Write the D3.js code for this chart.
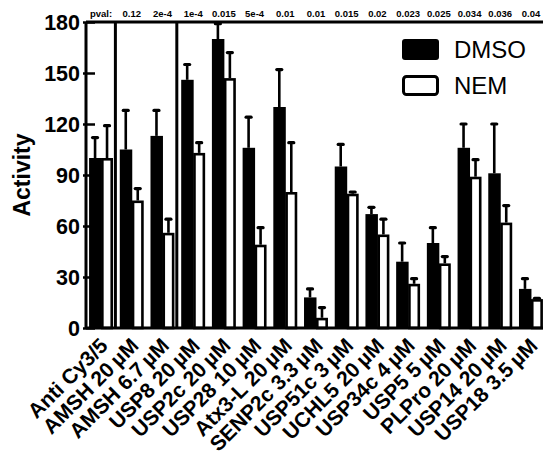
<!DOCTYPE html>
<html>
<head>
<meta charset="utf-8">
<script src="https://cdn.jsdelivr.net/npm/d3@7"></script>
<style>
  body { margin: 0; background: #fff; }
  svg text { font-family: "Liberation Sans", Arial, sans-serif; }
</style>
</head>
<body>
<svg id="chart" width="543" height="462"></svg>
<script>
// data (thin space before the unit)
const categories = ["Anti Cy3/5", "AMSH 20\u2009µM", "AMSH 6.7\u2009µM", "USP8 20\u2009µM", "USP2c 20\u2009µM",
  "USP28 10\u2009µM", "Atx3-L 20\u2009µM", "SENP2c 3.3\u2009µM", "USP51c 3\u2009µM", "UCHL5 20\u2009µM",
  "USP34c 4\u2009µM", "USP5 5\u2009µM", "PLPro 20\u2009µM", "USP14 20\u2009µM", "USP18 3.5\u2009µM"];
const dmso    = [100, 105, 113, 146, 170, 106, 130, 18, 95, 67, 39, 50, 106, 91, 23];
const dmsoErr = [12, 23, 15, 9, 9, 18, 22, 5, 13, 4, 11, 9, 14, 29, 6];
const nem     = [100, 75, 56, 103, 147, 49, 80, 6, 79, 55, 26, 38, 89, 62, 17];
const nemErr  = [19, 7, 8, 6, 15, 10, 29, 6, 1, 9, 3, 4, 10, 10, 0.5];
const pvals   = ["pval:", "0.12", "2e-4", "1e-4", "0.015", "5e-4", "0.01", "0.01", "0.015",
  "0.02", "0.023", "0.025", "0.034", "0.036", "0.04"];
const separators = [1, 3];   // category index that a divider line sits before
const yTicks = [0, 30, 60, 90, 120, 150, 180];
const seriesNames = ["DMSO", "NEM"];

const svg = d3.select("#chart");
const mLeft = 86, mRight = 546, mTop = 22, mBottom = 328;

const x = d3.scaleBand()
  .domain(categories)
  .range([mLeft, mRight])
  .paddingInner(0.22)
  .paddingOuter(0.1);

const xSub = d3.scaleBand()
  .domain(seriesNames)
  .range([0, x.bandwidth()]);

const y = d3.scaleLinear()
  .domain([0, 180])
  .range([mBottom, mTop]);

const rows = categories.map(function(c, i) {
  return {cat: c, DMSO: [dmso[i], dmsoErr[i]], NEM: [nem[i], nemErr[i]]};
});

// bars
const groups = svg.append("g").selectAll("g")
  .data(rows)
  .enter().append("g")
  .attr("transform", function(d) { return "translate(" + x(d.cat) + ",0)"; });

const bars = groups.selectAll("g.bar")
  .data(function(d) { return seriesNames.map(function(s) { return {s: s, v: d[s][0], e: d[s][1]}; }); })
  .enter().append("g").attr("class", "bar");

// error bars first so the bar covers the lower half
bars.append("line")
  .attr("x1", function(d) { return xSub(d.s) + xSub.bandwidth() / 2; })
  .attr("x2", function(d) { return xSub(d.s) + xSub.bandwidth() / 2; })
  .attr("y1", function(d) { return y(d.v); })
  .attr("y2", function(d) { return y(d.v + d.e); })
  .attr("stroke", "#000")
  .attr("stroke-width", 2.6);

bars.append("line")
  .attr("x1", function(d) { return xSub(d.s) + xSub.bandwidth() / 2 - 2.5; })
  .attr("x2", function(d) { return xSub(d.s) + xSub.bandwidth() / 2 + 2.5; })
  .attr("y1", function(d) { return y(d.v + d.e); })
  .attr("y2", function(d) { return y(d.v + d.e); })
  .attr("stroke", "#000")
  .attr("stroke-width", 3.2)
  .attr("stroke-linecap", "round");

bars.append("rect")
  .attr("x", function(d) { return d.s === "DMSO" ? xSub(d.s) : xSub(d.s) + 1.3; })
  .attr("width", function(d) { return d.s === "DMSO" ? xSub.bandwidth() + 0.5 : xSub.bandwidth() - 2.6; })
  .attr("y", function(d) { return d.s === "DMSO" ? y(d.v) : y(d.v) + 1.3; })
  .attr("height", function(d) { return d.s === "DMSO" ? mBottom - y(d.v) : mBottom - y(d.v) - 1.3; })
  .attr("fill", function(d) { return d.s === "DMSO" ? "#000" : "#fff"; })
  .attr("stroke", function(d) { return d.s === "DMSO" ? "none" : "#000"; })
  .attr("stroke-width", 2.6);

// separators
svg.append("g").selectAll("line")
  .data(separators)
  .enter().append("line")
  .attr("x1", function(d) { return x(categories[d]) - x.step() * x.paddingInner() / 2 - 1; })
  .attr("x2", function(d) { return x(categories[d]) - x.step() * x.paddingInner() / 2 - 1; })
  .attr("y1", mTop)
  .attr("y2", mBottom)
  .attr("stroke", "#000")
  .attr("stroke-width", 3);

// axes
svg.append("line")
  .attr("x1", mLeft).attr("x2", 543)
  .attr("y1", mBottom).attr("y2", mBottom)
  .attr("stroke", "#000").attr("stroke-width", 3);

svg.append("line")
  .attr("x1", mLeft).attr("x2", 543)
  .attr("y1", mTop).attr("y2", mTop)
  .attr("stroke", "#000").attr("stroke-width", 3);

const yAxis = svg.append("g")
  .attr("transform", "translate(" + mLeft + ",0)")
  .call(d3.axisLeft(y).tickValues(yTicks).tickSize(3).tickPadding(6));

yAxis.select(".domain").attr("stroke", "#000").attr("stroke-width", 3)
  .attr("d", "M0," + mTop + "V" + mBottom);
yAxis.selectAll(".tick line")
  .attr("x1", -3).attr("x2", 9)
  .attr("stroke", "#000").attr("stroke-width", 2.5);
yAxis.selectAll(".tick text")
  .attr("x", -6)
  .attr("dy", "0.36em")
  .style("font-family", "'Liberation Sans', Arial, sans-serif")
  .style("font-size", "21.5px")
  .style("font-weight", "bold")
  .attr("fill", "#000");

svg.append("text")
  .attr("transform", "translate(30,175) rotate(-90)")
  .attr("text-anchor", "middle")
  .style("font-size", "23px")
  .style("font-weight", "bold")
  .text("Activity");

// x labels
svg.append("g").selectAll("text")
  .data(categories)
  .enter().append("text")
  .attr("transform", function(d) {
    return "translate(" + (x(d) + x.bandwidth() / 2 + 8) + ",347) rotate(-45)";
  })
  .attr("text-anchor", "end")
  .style("font-size", "21px")
  .style("font-weight", "bold")
  .text(function(d) { return d; });

// p-values
svg.append("g").selectAll("text")
  .data(pvals)
  .enter().append("text")
  .attr("x", function(d, i) { return x(categories[i]) + x.bandwidth() / 2; })
  .attr("y", 17)
  .attr("text-anchor", "middle")
  .style("font-size", "9.5px")
  .style("font-weight", "bold")
  .text(function(d) { return d; });

// legend
const legend = svg.append("g").attr("transform", "translate(402,39)");
legend.selectAll("rect")
  .data(seriesNames)
  .enter().append("rect")
  .attr("x", function(d) { return d === "DMSO" ? 0 : 1.5; })
  .attr("y", function(d, i) { return i * 36 + (d === "DMSO" ? 0 : 1.5); })
  .attr("width", function(d) { return d === "DMSO" ? 37 : 34; })
  .attr("height", function(d) { return d === "DMSO" ? 21 : 18; })
  .attr("rx", 3)
  .attr("fill", function(d) { return d === "DMSO" ? "#000" : "#fff"; })
  .attr("stroke", "#000")
  .attr("stroke-width", function(d) { return d === "DMSO" ? 0 : 3; });

legend.selectAll("text")
  .data(seriesNames)
  .enter().append("text")
  .attr("x", 52)
  .attr("y", function(d, i) { return i * 36 + 19; })
  .style("font-size", "24px")
  .text(function(d) { return d; });
</script>
</body>
</html>
